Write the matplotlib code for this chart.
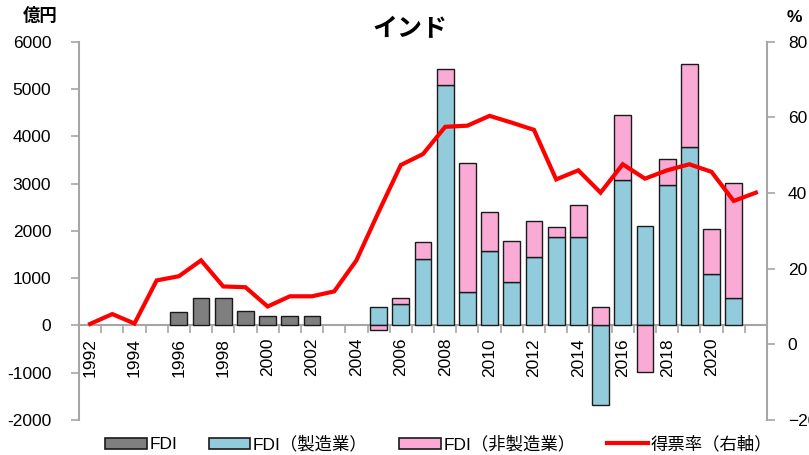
import numpy as np
import matplotlib
matplotlib.use("Agg")
import matplotlib.pyplot as plt
from matplotlib.patches import Patch
from matplotlib.lines import Line2D

plt.rcParams['font.family'] = ['Liberation Sans', 'Noto Sans CJK JP', 'DejaVu Sans']

nan = np.nan
years = list(range(1992, 2023))
fdi = [nan, nan, nan, nan, 280, 580, 580, 300, 190, 190, 190, nan, nan,
       nan, nan, nan, nan, nan, nan, nan, nan, nan, nan, nan, nan, nan, nan, nan, nan, nan, nan]
fdi_mfg = [nan, nan, nan, nan, nan, nan, nan, nan, nan, nan, nan, nan, nan,
           380, 450, 1400, 5090, 710, 1570, 910, 1450, 1870, 1870, -1675,
           3070, 2110, 2970, 3780, 1080, 590, nan]
fdi_nonmfg = [nan, nan, nan, nan, nan, nan, nan, nan, nan, nan, nan, nan, nan,
              -100, 140, 370, 330, 2720, 830, 880, 760, 220, 680, 390,
              1370, -975, 550, 1750, 950, 2420, nan]
vote = [5.4, 8.0, 5.5, 16.9, 18.0, 22.2, 15.3, 15.1, 10.0, 12.7, 12.7, 14.0,
        22.2, 35.0, 47.4, 50.3, 57.5, 57.8, 60.4, 58.6, 56.7, 43.6, 46.0, 40.1,
        47.6, 43.8, 46.0, 47.6, 45.6, 37.9, 40.1]

c_gray = '#7F7F7F'
c_blue = '#92CBDB'
c_pink = '#F9ABD6'
c_red = '#FF0000'
c_axis = '#A6A6A6'
fs = 12.5

fig = plt.figure(figsize=(8.09, 4.55), dpi=100)
ax = fig.add_axes([79/809, 1-420/455, (767-79)/809, (420-41.7)/455])

x = np.arange(len(years))
mfg = np.array(fdi_mfg, dtype=float)
non = np.array(fdi_nonmfg, dtype=float)
non_bottom = np.where(np.sign(non) == np.sign(mfg), mfg, 0.0)
w = 0.76
ax.bar(x, fdi, width=w, color=c_gray, edgecolor='#1a1a1a', linewidth=1.0, zorder=3)
ax.bar(x, mfg, width=w, color=c_blue, edgecolor='#1a1a1a', linewidth=1.0, zorder=3)
ax.bar(x, non, bottom=non_bottom, width=w, color=c_pink, edgecolor='#1a1a1a', linewidth=1.0, zorder=3)

ax.set_xlim(-0.5, len(years) - 0.5)
ax.set_ylim(-2000, 6000)
ax.set_yticks(range(-2000, 6001, 1000))
ax.set_yticklabels([str(v) for v in range(-2000, 6001, 1000)])

ax.spines['top'].set_visible(False)
ax.spines['right'].set_visible(False)
ax.spines['bottom'].set_position(('data', 0))
for s in ['left', 'bottom']:
    ax.spines[s].set_color(c_axis)
    ax.spines[s].set_linewidth(1.5)

ax.set_xticks(np.arange(-0.5, len(years)), minor=False)
ax.set_xticklabels([])
ax.tick_params(axis='x', which='major', direction='out', length=6, width=1.2, color=c_axis)
lab_pos = [i for i, y in enumerate(years) if y % 2 == 0 and y <= 2020]
ax.set_xticks(lab_pos, minor=True)
ax.set_xticklabels([str(years[i]) for i in lab_pos], minor=True, rotation=90, fontsize=fs)
ax.tick_params(axis='x', which='minor', length=0, pad=9)
ax.tick_params(axis='y', direction='out', length=6, width=1.2, color=c_axis, labelsize=fs, pad=14)

ax2 = ax.twinx()
ax2.plot(x, vote, color=c_red, linewidth=3, solid_joinstyle='miter', zorder=5)
ax2.set_ylim(-20, 80)
ax2.set_yticks(range(-20, 81, 20))
ax2.spines['top'].set_visible(False)
ax2.spines['left'].set_visible(False)
ax2.spines['bottom'].set_visible(False)
ax2.spines['right'].set_color(c_axis)
ax2.spines['right'].set_linewidth(1.5)
ax2.tick_params(axis='y', direction='out', length=6, width=1.2, color=c_axis, labelsize=fs, pad=9)

fig.text(410/809, 1-29/455, 'インド', ha='center', va='center', fontsize=18, fontweight='bold')
fig.text(40/809, 1-15/455, '億円', ha='center', va='center', fontsize=12.5, fontweight='bold')
fig.text(794/809, 1-17/455, '%', ha='center', va='center', fontsize=12.5, fontweight='bold')

handles = [Patch(facecolor=c_gray, edgecolor='#1a1a1a', linewidth=1.2),
           Patch(facecolor=c_blue, edgecolor='#1a1a1a', linewidth=1.2),
           Patch(facecolor=c_pink, edgecolor='#1a1a1a', linewidth=1.2),
           Line2D([0], [0], color=c_red, linewidth=3)]
labels = ['FDI', 'FDI（製造業）', 'FDI（非製造業）', '得票率（右軸）']
fig.legend(handles, labels, loc='center', bbox_to_anchor=(439/809, 1-444/455), ncol=4,
           frameon=False, fontsize=fs, handlelength=2.4, handleheight=0.65,
           handletextpad=0.15, columnspacing=1.8, borderaxespad=0, borderpad=0)

fig.savefig('out.png', dpi=100)
